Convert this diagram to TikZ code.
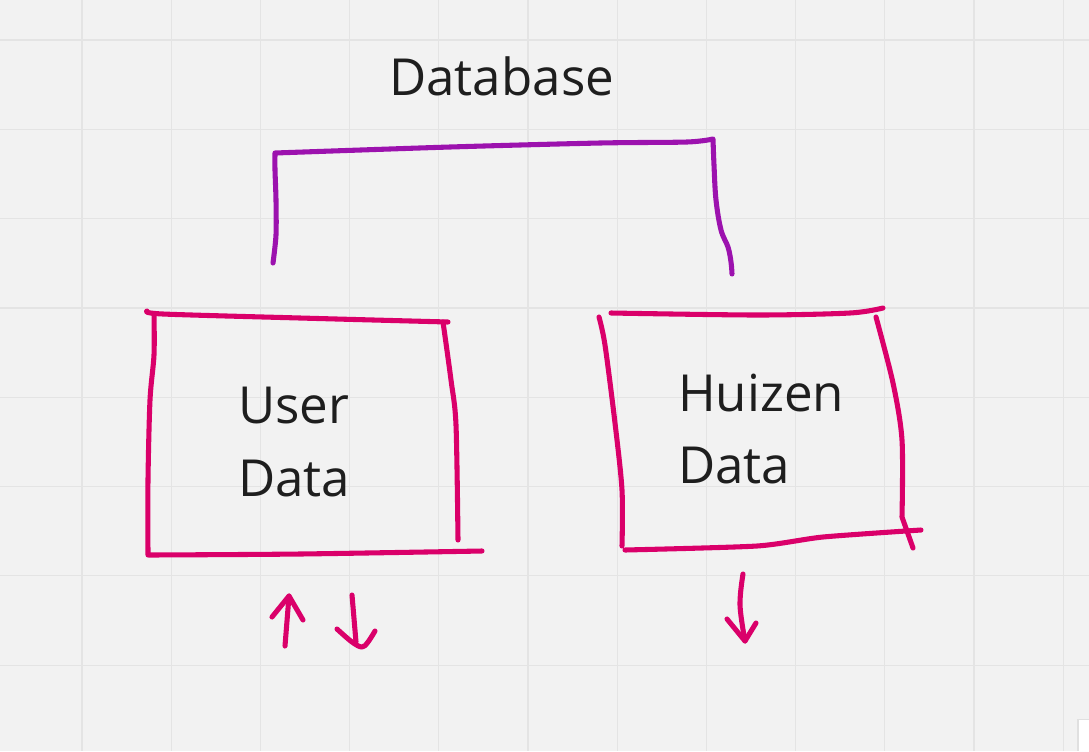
\documentclass[tikz,border=0pt]{standalone}
\usepackage{fontspec}
\setmainfont{Open Sans}
\definecolor{bgc}{RGB}{242,242,242}
\definecolor{gridc}{RGB}{228,228,228}
\definecolor{pinkc}{RGB}{218,0,106}
\definecolor{purplec}{RGB}{156,18,174}
\definecolor{txtc}{RGB}{30,30,30}
\begin{document}
\begin{tikzpicture}[x=0.75pt,y=-0.75pt,
  pen/.style={line width=3.8pt, line cap=round, line join=round},
  pinkpen/.style={pen, draw=pinkc},
  purplepen/.style={pen, draw=purplec},
  label/.style={inner sep=0pt, anchor=base west, text=txtc, font=\fontsize{38.3pt}{46pt}\selectfont}]
\useasboundingbox (0,0) rectangle (1089,751);
\fill[bgc] (0,0) rectangle (1089,751);
% grid
\foreach \i in {0,...,11} {
  \draw[gridc, line width=0.9pt] ({82+89.2*\i},0) -- ({82+89.2*\i},751);
}
\foreach \j in {0,...,7} {
  \draw[gridc, line width=0.9pt] (0,{40+89.3*\j}) -- (1089,{40+89.3*\j});
}
% title
\node[label] (db) at (389,95) {Database};
% purple bracket
\draw[purplepen] plot[smooth, tension=0.5] coordinates {(273,263) (276,235) (276,200) (275,170) (275,153)}
  -- plot[smooth, tension=0.5] coordinates {(275,153) (450,147) (600,143) (687,142) (713,139)}
  -- plot[smooth, tension=0.6] coordinates {(713,139) (714,165) (716,200) (721,230) (728,247) (731,262) (732,274)};
% left box
\draw[pinkpen] plot[smooth, tension=0.5] coordinates {(147,311) (163,314) (300,318) (448,322)};
\draw[pinkpen] plot[smooth, tension=0.5] coordinates {(154,314) (154,355) (150,400) (148,480) (148,555)};
\draw[pinkpen] plot[smooth, tension=0.5] coordinates {(149,555) (300,554) (482,551)};
\draw[pinkpen] plot[smooth, tension=0.5] coordinates {(443,322) (451,380) (456,425) (458,540)};
% right box
\draw[pinkpen] plot[smooth, tension=0.5] coordinates {(611,313) (757,315) (850,313) (883,308)};
\draw[pinkpen] plot[smooth, tension=0.5] coordinates {(599,317) (605,345) (615,423) (622,490) (622,546)};
\draw[pinkpen] plot[smooth, tension=0.4] coordinates {(625,550) (757,546) (823,537) (921,530)};
\draw[pinkpen] plot[smooth, tension=0.5] coordinates {(876,317) (893,383) (902,440) (902,517)} -- (913,548);
% texts
\node[label] (u1) at (238,423) {User};
\node[label] (u2) at (238,496) {Data};
\node[label] (h1) at (678,411) {Huizen};
\node[label] (h2) at (678,483) {Data};
% arrows under User Data
\draw[pinkpen] (285,646) -- (289,596);
\draw[pinkpen] (272,617) -- (289,596) -- (303,620);
\draw[pinkpen] (352,595) -- (356,642);
\draw[pinkpen] plot[smooth, tension=0.6] coordinates {(337,629) (352,642) (362,647) (368,642) (375,631)};
% arrow under Huizen Data
\draw[pinkpen] plot[smooth, tension=0.6] coordinates {(743,574) (740,605) (745,641)};
\draw[pinkpen] (727,619) -- (745,641) -- (756,623);
% white corner element
\fill[black!12] (1077,719) rectangle (1089,751);
\fill[white] (1079,720) rectangle (1089,751);
\end{tikzpicture}
\end{document}
